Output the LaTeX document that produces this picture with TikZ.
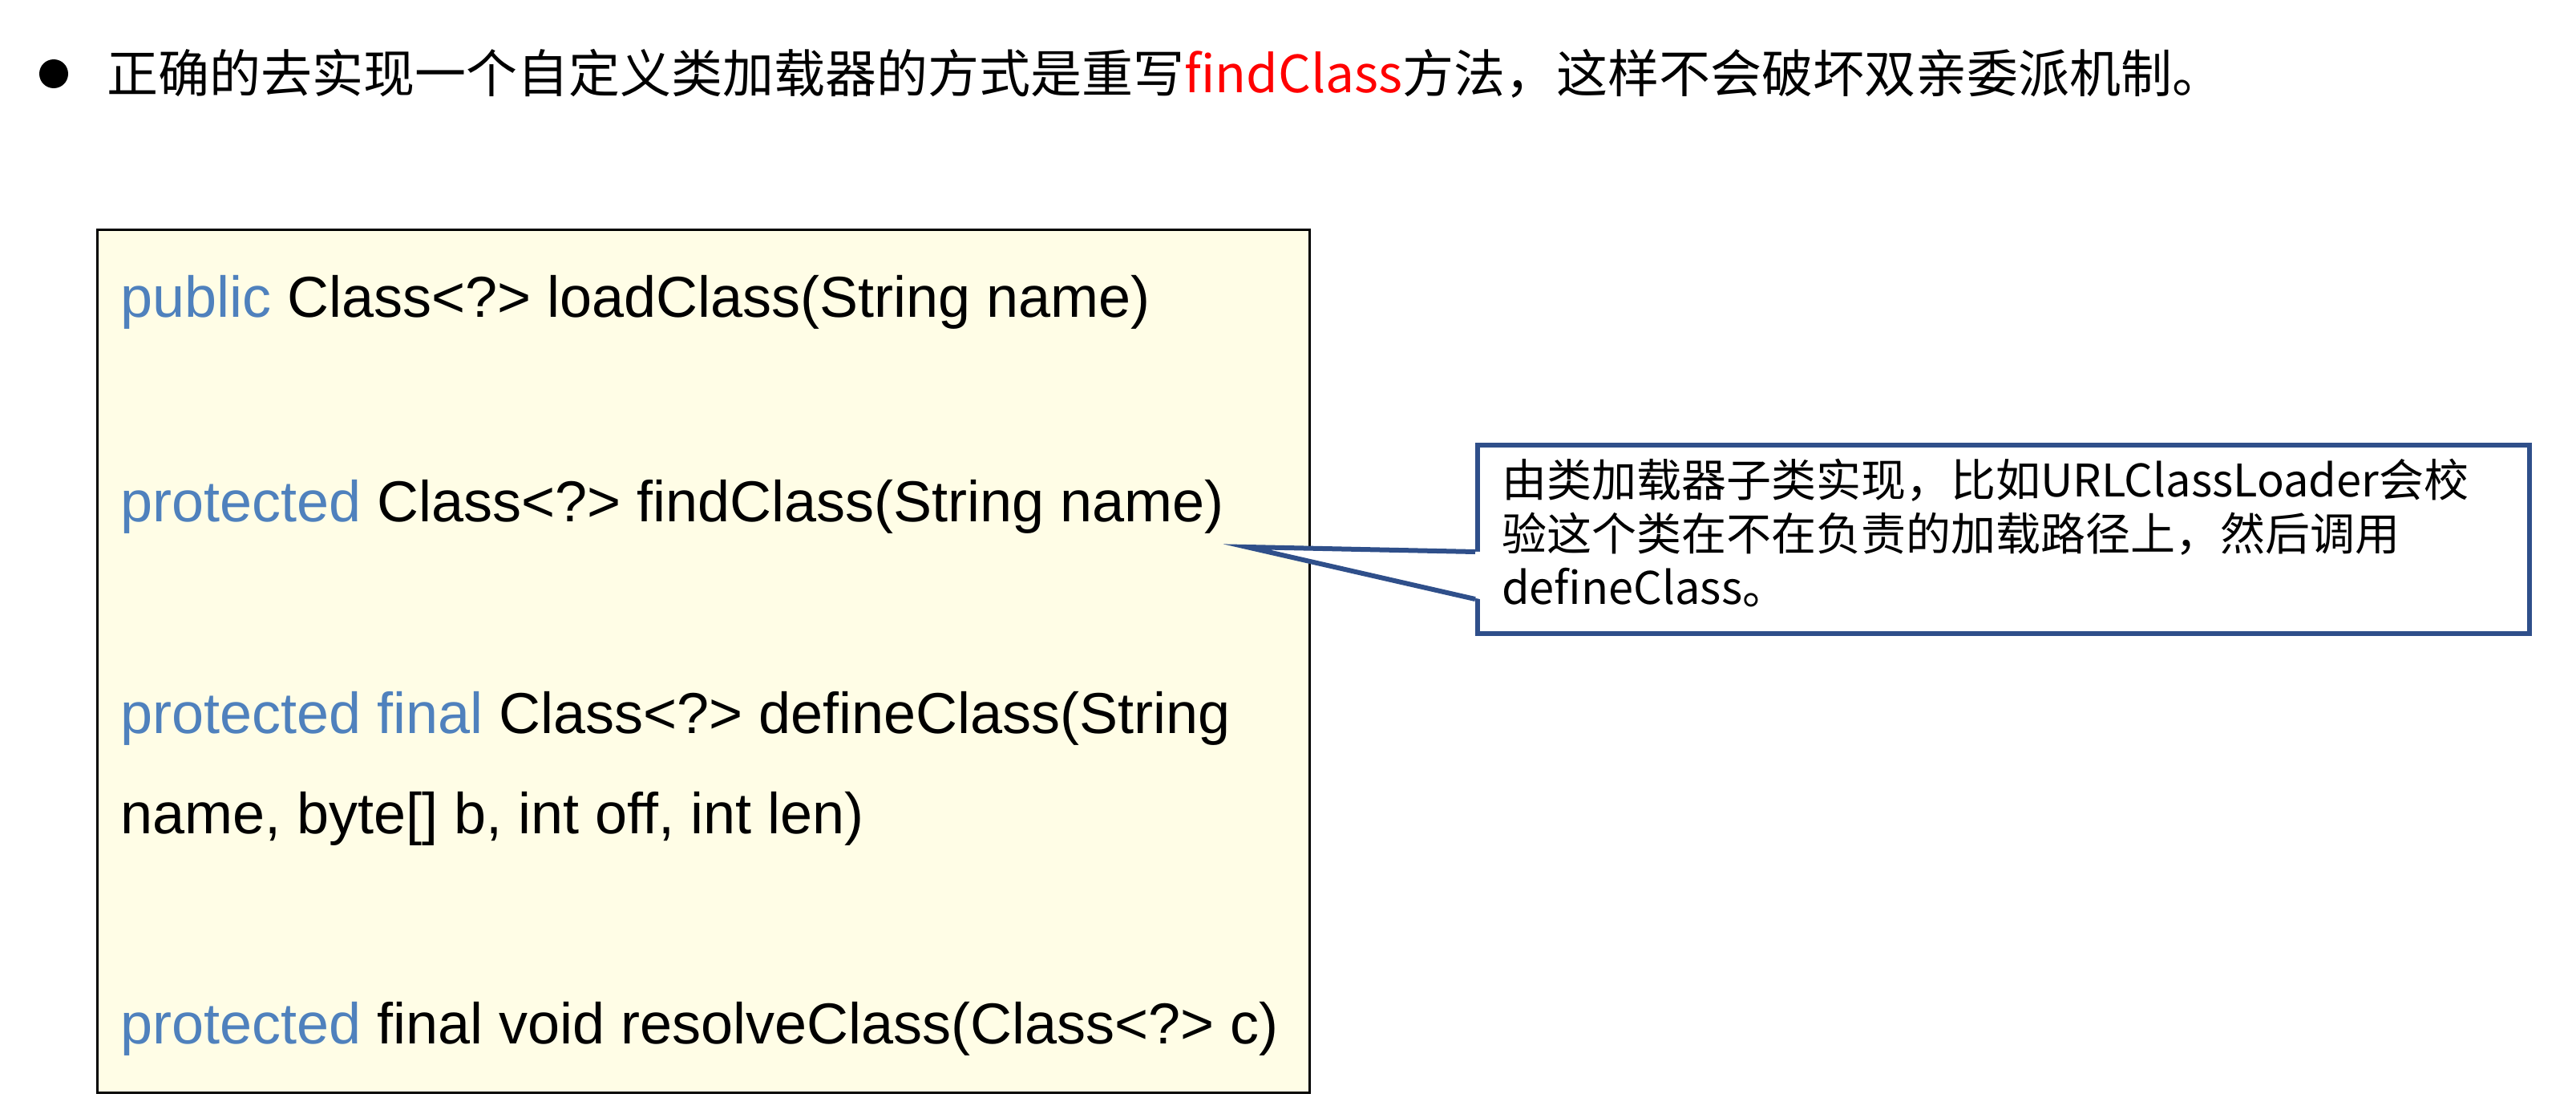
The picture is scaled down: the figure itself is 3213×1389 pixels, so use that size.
\documentclass[tikz,border=0pt]{standalone}
\usepackage{fontspec}
\setmainfont{Liberation Sans}
\newfontfamily\cjk{Noto Sans CJK SC}
\definecolor{kw}{HTML}{4F81BD}
\definecolor{navy}{HTML}{2F4F8A}
\definecolor{paper}{HTML}{FFFDE6}
\begin{document}
\begin{tikzpicture}[x=1pt,y=-1pt,
  code/.style={anchor=base west,inner sep=0pt,font=\fontsize{72}{86}\selectfont}]
\useasboundingbox[fill=white] (0,0) rectangle (3213,1389);
\fill (67,92) circle (18);
\node[anchor=west,inner sep=0pt,font=\cjk\fontsize{64}{76}\selectfont] (title) at (133,92)
  {正确的去实现一个自定义类加载器的方式是重写\textcolor{red}{findClass}方法，这样不会破坏双亲委派机制。};
\node[draw=black,line width=3pt,fill=paper,minimum width=1512pt,minimum height=1076pt,anchor=north west,inner sep=0pt] (box) at (120,285) {};
\node[code] (l1) at (150,395) {\textcolor{kw}{public} Class<?> loadClass(String name)};
\node[code] (l2) at (150,650) {\textcolor{kw}{protected} Class<?> findClass(String name)};
\node[code] (l3) at (150,914) {\textcolor{kw}{protected final} Class<?> defineClass(String};
\node[code] (l4) at (150,1039) {name, byte[] b, int off, int len)};
\node[code] (l5) at (150,1301) {\textcolor{kw}{protected} final void resolveClass(Class<?> c)};
\coordinate (tip) at (1555,682);
\node[draw=navy,line width=6pt,fill=white,minimum width=1312pt,minimum height=235pt,anchor=north west,inner sep=0pt] (call) at (1840,552) {};
\fill[white] (tip) -- (1846,688) -- (1846,747) -- cycle;
\draw[navy,line width=6pt,line join=miter] (1840,688) -- (tip) -- (1840,747);
\node[anchor=north west,inner sep=0pt,align=left,font=\cjk\fontsize{56}{67}\selectfont] (ctext) at (1873,572)
  {由类加载器子类实现，比如URLClassLoader会校\\验这个类在不在负责的加载路径上，然后调用\\defineClass。};
\end{tikzpicture}
\end{document}
